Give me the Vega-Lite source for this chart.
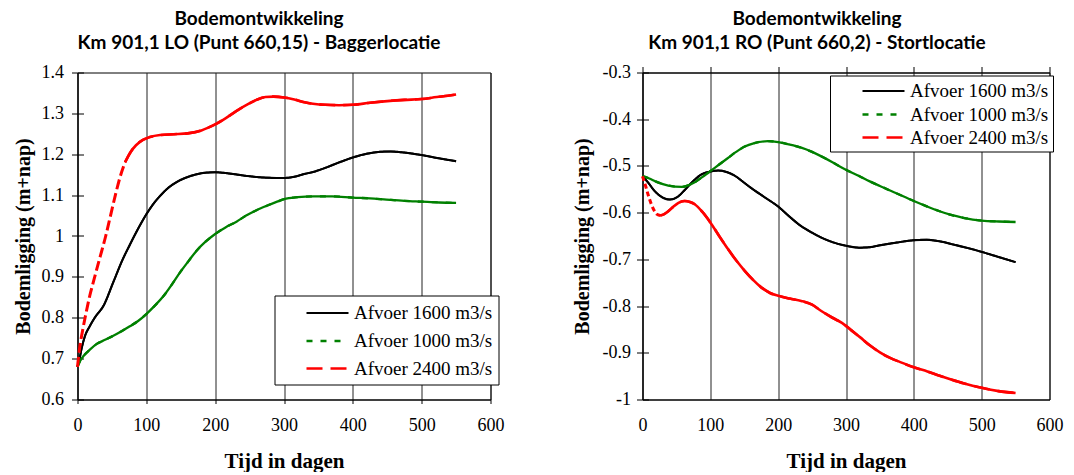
{
  "$schema": "https://vega.github.io/schema/vega-lite/v6.json",
  "background": "white",
  "padding": {"left": 12.5, "top": 8.5, "right": 0, "bottom": 0},
  "config": {
    "view": {"stroke": "#000", "strokeWidth": 1},
    "font": "Liberation Serif",
    "axis": {
      "labelFont": "Liberation Serif", "labelFontSize": 18, "labelColor": "#000",
      "titleFont": "Liberation Serif", "titleFontSize": 21, "titleFontWeight": "bold", "titleColor": "#000",
      "domainColor": "#000", "tickColor": "#000", "gridColor": "#222", "gridOpacity": 1, "gridWidth": 1,
      "labelFlush": false, "labelOverlap": false
    },
    "title": {"font": "Lato", "fontSize": 19, "fontWeight": "bold", "color": "#000", "lineHeight": 24},
    "legend": {
      "orient": "none", "title": null,
      "labelFont": "Liberation Serif", "labelFontSize": 19, "labelColor": "#000", "labelLimit": 300,
      "strokeColor": "#000", "fillColor": "#fff",
      "symbolType": "M-2,0H2", "symbolSize": 441, "labelOffset": 14.5
    }
  },
  "datasets": {
    "lo": [
      {"dag": 0, "waarde": 0.68, "serie": "Afvoer 1600 m3/s"},
      {"dag": 3, "waarde": 0.70, "serie": "Afvoer 1600 m3/s"},
      {"dag": 6, "waarde": 0.725, "serie": "Afvoer 1600 m3/s"},
      {"dag": 11, "waarde": 0.756, "serie": "Afvoer 1600 m3/s"},
      {"dag": 18, "waarde": 0.78, "serie": "Afvoer 1600 m3/s"},
      {"dag": 25, "waarde": 0.80, "serie": "Afvoer 1600 m3/s"},
      {"dag": 38, "waarde": 0.83, "serie": "Afvoer 1600 m3/s"},
      {"dag": 52, "waarde": 0.887, "serie": "Afvoer 1600 m3/s"},
      {"dag": 66, "waarde": 0.944, "serie": "Afvoer 1600 m3/s"},
      {"dag": 75, "waarde": 0.975, "serie": "Afvoer 1600 m3/s"},
      {"dag": 84, "waarde": 1.005, "serie": "Afvoer 1600 m3/s"},
      {"dag": 92, "waarde": 1.03, "serie": "Afvoer 1600 m3/s"},
      {"dag": 100, "waarde": 1.053, "serie": "Afvoer 1600 m3/s"},
      {"dag": 110, "waarde": 1.078, "serie": "Afvoer 1600 m3/s"},
      {"dag": 120, "waarde": 1.098, "serie": "Afvoer 1600 m3/s"},
      {"dag": 132, "waarde": 1.118, "serie": "Afvoer 1600 m3/s"},
      {"dag": 144, "waarde": 1.132, "serie": "Afvoer 1600 m3/s"},
      {"dag": 158, "waarde": 1.143, "serie": "Afvoer 1600 m3/s"},
      {"dag": 173, "waarde": 1.151, "serie": "Afvoer 1600 m3/s"},
      {"dag": 186, "waarde": 1.155, "serie": "Afvoer 1600 m3/s"},
      {"dag": 200, "waarde": 1.156, "serie": "Afvoer 1600 m3/s"},
      {"dag": 220, "waarde": 1.153, "serie": "Afvoer 1600 m3/s"},
      {"dag": 246, "waarde": 1.147, "serie": "Afvoer 1600 m3/s"},
      {"dag": 270, "waarde": 1.143, "serie": "Afvoer 1600 m3/s"},
      {"dag": 289, "waarde": 1.142, "serie": "Afvoer 1600 m3/s"},
      {"dag": 300, "waarde": 1.142, "serie": "Afvoer 1600 m3/s"},
      {"dag": 315, "waarde": 1.145, "serie": "Afvoer 1600 m3/s"},
      {"dag": 328, "waarde": 1.151, "serie": "Afvoer 1600 m3/s"},
      {"dag": 345, "waarde": 1.158, "serie": "Afvoer 1600 m3/s"},
      {"dag": 362, "waarde": 1.168, "serie": "Afvoer 1600 m3/s"},
      {"dag": 380, "waarde": 1.18, "serie": "Afvoer 1600 m3/s"},
      {"dag": 400, "waarde": 1.192, "serie": "Afvoer 1600 m3/s"},
      {"dag": 420, "waarde": 1.201, "serie": "Afvoer 1600 m3/s"},
      {"dag": 440, "waarde": 1.206, "serie": "Afvoer 1600 m3/s"},
      {"dag": 455, "waarde": 1.207, "serie": "Afvoer 1600 m3/s"},
      {"dag": 470, "waarde": 1.205, "serie": "Afvoer 1600 m3/s"},
      {"dag": 485, "waarde": 1.202, "serie": "Afvoer 1600 m3/s"},
      {"dag": 500, "waarde": 1.198, "serie": "Afvoer 1600 m3/s"},
      {"dag": 525, "waarde": 1.19, "serie": "Afvoer 1600 m3/s"},
      {"dag": 550, "waarde": 1.183, "serie": "Afvoer 1600 m3/s"},

      {"dag": 0, "waarde": 0.68, "serie": "Afvoer 1000 m3/s"},
      {"dag": 4, "waarde": 0.695, "serie": "Afvoer 1000 m3/s"},
      {"dag": 9, "waarde": 0.707, "serie": "Afvoer 1000 m3/s"},
      {"dag": 18, "waarde": 0.722, "serie": "Afvoer 1000 m3/s"},
      {"dag": 28, "waarde": 0.736, "serie": "Afvoer 1000 m3/s"},
      {"dag": 40, "waarde": 0.746, "serie": "Afvoer 1000 m3/s"},
      {"dag": 52, "waarde": 0.756, "serie": "Afvoer 1000 m3/s"},
      {"dag": 64, "waarde": 0.767, "serie": "Afvoer 1000 m3/s"},
      {"dag": 76, "waarde": 0.779, "serie": "Afvoer 1000 m3/s"},
      {"dag": 88, "waarde": 0.792, "serie": "Afvoer 1000 m3/s"},
      {"dag": 100, "waarde": 0.809, "serie": "Afvoer 1000 m3/s"},
      {"dag": 112, "waarde": 0.829, "serie": "Afvoer 1000 m3/s"},
      {"dag": 125, "waarde": 0.853, "serie": "Afvoer 1000 m3/s"},
      {"dag": 137, "waarde": 0.881, "serie": "Afvoer 1000 m3/s"},
      {"dag": 149, "waarde": 0.911, "serie": "Afvoer 1000 m3/s"},
      {"dag": 161, "waarde": 0.938, "serie": "Afvoer 1000 m3/s"},
      {"dag": 173, "waarde": 0.964, "serie": "Afvoer 1000 m3/s"},
      {"dag": 186, "waarde": 0.986, "serie": "Afvoer 1000 m3/s"},
      {"dag": 200, "waarde": 1.005, "serie": "Afvoer 1000 m3/s"},
      {"dag": 215, "waarde": 1.021, "serie": "Afvoer 1000 m3/s"},
      {"dag": 231, "waarde": 1.035, "serie": "Afvoer 1000 m3/s"},
      {"dag": 245, "waarde": 1.05, "serie": "Afvoer 1000 m3/s"},
      {"dag": 260, "waarde": 1.063, "serie": "Afvoer 1000 m3/s"},
      {"dag": 275, "waarde": 1.074, "serie": "Afvoer 1000 m3/s"},
      {"dag": 290, "waarde": 1.084, "serie": "Afvoer 1000 m3/s"},
      {"dag": 300, "waarde": 1.09, "serie": "Afvoer 1000 m3/s"},
      {"dag": 320, "waarde": 1.095, "serie": "Afvoer 1000 m3/s"},
      {"dag": 343, "waarde": 1.097, "serie": "Afvoer 1000 m3/s"},
      {"dag": 370, "waarde": 1.097, "serie": "Afvoer 1000 m3/s"},
      {"dag": 400, "waarde": 1.094, "serie": "Afvoer 1000 m3/s"},
      {"dag": 425, "waarde": 1.092, "serie": "Afvoer 1000 m3/s"},
      {"dag": 449, "waarde": 1.089, "serie": "Afvoer 1000 m3/s"},
      {"dag": 475, "waarde": 1.086, "serie": "Afvoer 1000 m3/s"},
      {"dag": 500, "waarde": 1.084, "serie": "Afvoer 1000 m3/s"},
      {"dag": 525, "waarde": 1.082, "serie": "Afvoer 1000 m3/s"},
      {"dag": 550, "waarde": 1.081, "serie": "Afvoer 1000 m3/s"},

      {"dag": 0, "waarde": 0.68, "serie": "Afvoer 2400 m3/s"},
      {"dag": 3, "waarde": 0.725, "serie": "Afvoer 2400 m3/s"},
      {"dag": 7, "waarde": 0.765, "serie": "Afvoer 2400 m3/s"},
      {"dag": 11, "waarde": 0.80, "serie": "Afvoer 2400 m3/s"},
      {"dag": 18, "waarde": 0.855, "serie": "Afvoer 2400 m3/s"},
      {"dag": 25, "waarde": 0.90, "serie": "Afvoer 2400 m3/s"},
      {"dag": 33, "waarde": 0.95, "serie": "Afvoer 2400 m3/s"},
      {"dag": 41, "waarde": 1.0, "serie": "Afvoer 2400 m3/s"},
      {"dag": 48, "waarde": 1.05, "serie": "Afvoer 2400 m3/s"},
      {"dag": 55, "waarde": 1.10, "serie": "Afvoer 2400 m3/s"},
      {"dag": 62, "waarde": 1.145, "serie": "Afvoer 2400 m3/s"},
      {"dag": 69, "waarde": 1.18, "serie": "Afvoer 2400 m3/s"},
      {"dag": 77, "waarde": 1.205, "serie": "Afvoer 2400 m3/s"},
      {"dag": 85, "waarde": 1.222, "serie": "Afvoer 2400 m3/s"},
      {"dag": 95, "waarde": 1.235, "serie": "Afvoer 2400 m3/s"},
      {"dag": 105, "waarde": 1.242, "serie": "Afvoer 2400 m3/s"},
      {"dag": 120, "waarde": 1.247, "serie": "Afvoer 2400 m3/s"},
      {"dag": 140, "waarde": 1.249, "serie": "Afvoer 2400 m3/s"},
      {"dag": 160, "waarde": 1.251, "serie": "Afvoer 2400 m3/s"},
      {"dag": 180, "waarde": 1.258, "serie": "Afvoer 2400 m3/s"},
      {"dag": 190, "waarde": 1.265, "serie": "Afvoer 2400 m3/s"},
      {"dag": 200, "waarde": 1.273, "serie": "Afvoer 2400 m3/s"},
      {"dag": 215, "waarde": 1.288, "serie": "Afvoer 2400 m3/s"},
      {"dag": 230, "waarde": 1.305, "serie": "Afvoer 2400 m3/s"},
      {"dag": 245, "waarde": 1.32, "serie": "Afvoer 2400 m3/s"},
      {"dag": 260, "waarde": 1.333, "serie": "Afvoer 2400 m3/s"},
      {"dag": 273, "waarde": 1.34, "serie": "Afvoer 2400 m3/s"},
      {"dag": 285, "waarde": 1.341, "serie": "Afvoer 2400 m3/s"},
      {"dag": 300, "waarde": 1.339, "serie": "Afvoer 2400 m3/s"},
      {"dag": 315, "waarde": 1.334, "serie": "Afvoer 2400 m3/s"},
      {"dag": 328, "waarde": 1.328, "serie": "Afvoer 2400 m3/s"},
      {"dag": 345, "waarde": 1.323, "serie": "Afvoer 2400 m3/s"},
      {"dag": 360, "waarde": 1.321, "serie": "Afvoer 2400 m3/s"},
      {"dag": 380, "waarde": 1.32, "serie": "Afvoer 2400 m3/s"},
      {"dag": 400, "waarde": 1.321, "serie": "Afvoer 2400 m3/s"},
      {"dag": 425, "waarde": 1.326, "serie": "Afvoer 2400 m3/s"},
      {"dag": 450, "waarde": 1.33, "serie": "Afvoer 2400 m3/s"},
      {"dag": 475, "waarde": 1.333, "serie": "Afvoer 2400 m3/s"},
      {"dag": 500, "waarde": 1.335, "serie": "Afvoer 2400 m3/s"},
      {"dag": 522, "waarde": 1.34, "serie": "Afvoer 2400 m3/s"},
      {"dag": 538, "waarde": 1.343, "serie": "Afvoer 2400 m3/s"},
      {"dag": 550, "waarde": 1.346, "serie": "Afvoer 2400 m3/s"}
    ],
    "ro": [
      {"dag": 0, "waarde": -0.522, "serie": "Afvoer 1600 m3/s"},
      {"dag": 8, "waarde": -0.535, "serie": "Afvoer 1600 m3/s"},
      {"dag": 18, "waarde": -0.554, "serie": "Afvoer 1600 m3/s"},
      {"dag": 30, "waarde": -0.568, "serie": "Afvoer 1600 m3/s"},
      {"dag": 40, "waarde": -0.572, "serie": "Afvoer 1600 m3/s"},
      {"dag": 52, "waarde": -0.566, "serie": "Afvoer 1600 m3/s"},
      {"dag": 62, "waarde": -0.552, "serie": "Afvoer 1600 m3/s"},
      {"dag": 75, "waarde": -0.532, "serie": "Afvoer 1600 m3/s"},
      {"dag": 87, "waarde": -0.518, "serie": "Afvoer 1600 m3/s"},
      {"dag": 100, "waarde": -0.512, "serie": "Afvoer 1600 m3/s"},
      {"dag": 112, "waarde": -0.51, "serie": "Afvoer 1600 m3/s"},
      {"dag": 124, "waarde": -0.513, "serie": "Afvoer 1600 m3/s"},
      {"dag": 136, "waarde": -0.521, "serie": "Afvoer 1600 m3/s"},
      {"dag": 150, "waarde": -0.536, "serie": "Afvoer 1600 m3/s"},
      {"dag": 160, "waarde": -0.547, "serie": "Afvoer 1600 m3/s"},
      {"dag": 180, "waarde": -0.567, "serie": "Afvoer 1600 m3/s"},
      {"dag": 200, "waarde": -0.587, "serie": "Afvoer 1600 m3/s"},
      {"dag": 217, "waarde": -0.609, "serie": "Afvoer 1600 m3/s"},
      {"dag": 234, "waarde": -0.629, "serie": "Afvoer 1600 m3/s"},
      {"dag": 250, "waarde": -0.643, "serie": "Afvoer 1600 m3/s"},
      {"dag": 263, "waarde": -0.653, "serie": "Afvoer 1600 m3/s"},
      {"dag": 280, "waarde": -0.663, "serie": "Afvoer 1600 m3/s"},
      {"dag": 297, "waarde": -0.67, "serie": "Afvoer 1600 m3/s"},
      {"dag": 320, "waarde": -0.675, "serie": "Afvoer 1600 m3/s"},
      {"dag": 335, "waarde": -0.674, "serie": "Afvoer 1600 m3/s"},
      {"dag": 350, "waarde": -0.67, "serie": "Afvoer 1600 m3/s"},
      {"dag": 375, "waarde": -0.664, "serie": "Afvoer 1600 m3/s"},
      {"dag": 400, "waarde": -0.659, "serie": "Afvoer 1600 m3/s"},
      {"dag": 419, "waarde": -0.658, "serie": "Afvoer 1600 m3/s"},
      {"dag": 440, "waarde": -0.662, "serie": "Afvoer 1600 m3/s"},
      {"dag": 458, "waarde": -0.668, "serie": "Afvoer 1600 m3/s"},
      {"dag": 480, "waarde": -0.676, "serie": "Afvoer 1600 m3/s"},
      {"dag": 500, "waarde": -0.684, "serie": "Afvoer 1600 m3/s"},
      {"dag": 525, "waarde": -0.695, "serie": "Afvoer 1600 m3/s"},
      {"dag": 550, "waarde": -0.706, "serie": "Afvoer 1600 m3/s"},

      {"dag": 0, "waarde": -0.522, "serie": "Afvoer 1000 m3/s"},
      {"dag": 10, "waarde": -0.527, "serie": "Afvoer 1000 m3/s"},
      {"dag": 19, "waarde": -0.533, "serie": "Afvoer 1000 m3/s"},
      {"dag": 38, "waarde": -0.542, "serie": "Afvoer 1000 m3/s"},
      {"dag": 58, "waarde": -0.545, "serie": "Afvoer 1000 m3/s"},
      {"dag": 70, "waarde": -0.54, "serie": "Afvoer 1000 m3/s"},
      {"dag": 77, "waarde": -0.535, "serie": "Afvoer 1000 m3/s"},
      {"dag": 88, "waarde": -0.524, "serie": "Afvoer 1000 m3/s"},
      {"dag": 100, "waarde": -0.511, "serie": "Afvoer 1000 m3/s"},
      {"dag": 113, "waarde": -0.497, "serie": "Afvoer 1000 m3/s"},
      {"dag": 126, "waarde": -0.483, "serie": "Afvoer 1000 m3/s"},
      {"dag": 138, "waarde": -0.47, "serie": "Afvoer 1000 m3/s"},
      {"dag": 150, "waarde": -0.459, "serie": "Afvoer 1000 m3/s"},
      {"dag": 165, "waarde": -0.451, "serie": "Afvoer 1000 m3/s"},
      {"dag": 185, "waarde": -0.447, "serie": "Afvoer 1000 m3/s"},
      {"dag": 200, "waarde": -0.449, "serie": "Afvoer 1000 m3/s"},
      {"dag": 216, "waarde": -0.454, "serie": "Afvoer 1000 m3/s"},
      {"dag": 234, "waarde": -0.461, "serie": "Afvoer 1000 m3/s"},
      {"dag": 250, "waarde": -0.47, "serie": "Afvoer 1000 m3/s"},
      {"dag": 263, "waarde": -0.479, "serie": "Afvoer 1000 m3/s"},
      {"dag": 280, "waarde": -0.492, "serie": "Afvoer 1000 m3/s"},
      {"dag": 297, "waarde": -0.506, "serie": "Afvoer 1000 m3/s"},
      {"dag": 320, "waarde": -0.522, "serie": "Afvoer 1000 m3/s"},
      {"dag": 335, "waarde": -0.533, "serie": "Afvoer 1000 m3/s"},
      {"dag": 350, "waarde": -0.543, "serie": "Afvoer 1000 m3/s"},
      {"dag": 375, "waarde": -0.559, "serie": "Afvoer 1000 m3/s"},
      {"dag": 400, "waarde": -0.575, "serie": "Afvoer 1000 m3/s"},
      {"dag": 420, "waarde": -0.587, "serie": "Afvoer 1000 m3/s"},
      {"dag": 438, "waarde": -0.597, "serie": "Afvoer 1000 m3/s"},
      {"dag": 455, "waarde": -0.605, "serie": "Afvoer 1000 m3/s"},
      {"dag": 473, "waarde": -0.611, "serie": "Afvoer 1000 m3/s"},
      {"dag": 500, "waarde": -0.617, "serie": "Afvoer 1000 m3/s"},
      {"dag": 525, "waarde": -0.619, "serie": "Afvoer 1000 m3/s"},
      {"dag": 550, "waarde": -0.62, "serie": "Afvoer 1000 m3/s"},

      {"dag": 0, "waarde": -0.522, "serie": "Afvoer 2400 m3/s"},
      {"dag": 5, "waarde": -0.545, "serie": "Afvoer 2400 m3/s"},
      {"dag": 9, "waarde": -0.565, "serie": "Afvoer 2400 m3/s"},
      {"dag": 13, "waarde": -0.582, "serie": "Afvoer 2400 m3/s"},
      {"dag": 17, "waarde": -0.595, "serie": "Afvoer 2400 m3/s"},
      {"dag": 21, "waarde": -0.603, "serie": "Afvoer 2400 m3/s"},
      {"dag": 26, "waarde": -0.606, "serie": "Afvoer 2400 m3/s"},
      {"dag": 32, "waarde": -0.603, "serie": "Afvoer 2400 m3/s"},
      {"dag": 38, "waarde": -0.597, "serie": "Afvoer 2400 m3/s"},
      {"dag": 45, "waarde": -0.588, "serie": "Afvoer 2400 m3/s"},
      {"dag": 53, "waarde": -0.579, "serie": "Afvoer 2400 m3/s"},
      {"dag": 62, "waarde": -0.575, "serie": "Afvoer 2400 m3/s"},
      {"dag": 70, "waarde": -0.577, "serie": "Afvoer 2400 m3/s"},
      {"dag": 77, "waarde": -0.582, "serie": "Afvoer 2400 m3/s"},
      {"dag": 88, "waarde": -0.598, "serie": "Afvoer 2400 m3/s"},
      {"dag": 100, "waarde": -0.621, "serie": "Afvoer 2400 m3/s"},
      {"dag": 113, "waarde": -0.65, "serie": "Afvoer 2400 m3/s"},
      {"dag": 126, "waarde": -0.678, "serie": "Afvoer 2400 m3/s"},
      {"dag": 138, "waarde": -0.702, "serie": "Afvoer 2400 m3/s"},
      {"dag": 151, "waarde": -0.725, "serie": "Afvoer 2400 m3/s"},
      {"dag": 163, "waarde": -0.744, "serie": "Afvoer 2400 m3/s"},
      {"dag": 175, "waarde": -0.76, "serie": "Afvoer 2400 m3/s"},
      {"dag": 188, "waarde": -0.772, "serie": "Afvoer 2400 m3/s"},
      {"dag": 200, "waarde": -0.778, "serie": "Afvoer 2400 m3/s"},
      {"dag": 217, "waarde": -0.784, "serie": "Afvoer 2400 m3/s"},
      {"dag": 234, "waarde": -0.789, "serie": "Afvoer 2400 m3/s"},
      {"dag": 250, "waarde": -0.797, "serie": "Afvoer 2400 m3/s"},
      {"dag": 263, "waarde": -0.81, "serie": "Afvoer 2400 m3/s"},
      {"dag": 280, "waarde": -0.825, "serie": "Afvoer 2400 m3/s"},
      {"dag": 294, "waarde": -0.836, "serie": "Afvoer 2400 m3/s"},
      {"dag": 308, "waarde": -0.852, "serie": "Afvoer 2400 m3/s"},
      {"dag": 321, "waarde": -0.867, "serie": "Afvoer 2400 m3/s"},
      {"dag": 335, "waarde": -0.884, "serie": "Afvoer 2400 m3/s"},
      {"dag": 350, "waarde": -0.899, "serie": "Afvoer 2400 m3/s"},
      {"dag": 365, "waarde": -0.911, "serie": "Afvoer 2400 m3/s"},
      {"dag": 380, "waarde": -0.92, "serie": "Afvoer 2400 m3/s"},
      {"dag": 400, "waarde": -0.931, "serie": "Afvoer 2400 m3/s"},
      {"dag": 420, "waarde": -0.94, "serie": "Afvoer 2400 m3/s"},
      {"dag": 438, "waarde": -0.949, "serie": "Afvoer 2400 m3/s"},
      {"dag": 455, "waarde": -0.957, "serie": "Afvoer 2400 m3/s"},
      {"dag": 473, "waarde": -0.965, "serie": "Afvoer 2400 m3/s"},
      {"dag": 500, "waarde": -0.975, "serie": "Afvoer 2400 m3/s"},
      {"dag": 525, "waarde": -0.982, "serie": "Afvoer 2400 m3/s"},
      {"dag": 550, "waarde": -0.986, "serie": "Afvoer 2400 m3/s"}
    ]
  },
  "bounds": "flush",
  "spacing": 152,
  "resolve": {
    "scale": {"color": "independent", "strokeDash": "independent", "strokeWidth": "independent"},
    "legend": {"color": "independent", "strokeDash": "independent", "strokeWidth": "independent"}
  },
  "hconcat": [
    {
      "width": 413,
      "height": 327,
      "title": {"text": ["Bodemontwikkeling", "Km 901,1 LO (Punt 660,15) - Baggerlocatie"], "dx": -25, "offset": 11},
      "data": {"name": "lo"},
      "encoding": {
        "x": {
          "field": "dag", "type": "quantitative",
          "scale": {"domain": [0, 600], "nice": false},
          "axis": {
            "title": "Tijd in dagen", "values": [0, 100, 200, 300, 400, 500, 600],
            "grid": true, "tickSize": 4, "labelPadding": 12.5, "titlePadding": 16
          }
        }
      },
      "resolve": {"axis": {"y": "independent"}},
      "layer": [
        {
          "transform": [{"filter": "datum.serie != 'Afvoer 2400 m3/s' || datum.dag >= 69"}],
          "mark": {"type": "line", "interpolate": "monotone"},
          "encoding": {
            "y": {
              "field": "waarde", "type": "quantitative",
              "scale": {"domain": [0.6, 1.4], "nice": false, "zero": false},
              "axis": {"orient": "left", "labels": false, "domain": false, "grid": false, "title": null,
                       "tickSize": -6, "values": [0.6, 0.7, 0.8, 0.9, 1, 1.1, 1.2, 1.3, 1.4]}
            },
            "color": {
              "field": "serie", "type": "nominal",
              "scale": {"domain": ["Afvoer 1600 m3/s", "Afvoer 1000 m3/s", "Afvoer 2400 m3/s"], "range": ["#000000", "#008000", "#ff0000"]},
              "legend": {"legendX": 197, "legendY": 223, "padding": 6, "rowPadding": 5.5, "symbolOffset": 35}
            },
            "strokeDash": {
              "field": "serie", "type": "nominal",
              "scale": {"domain": ["Afvoer 1600 m3/s", "Afvoer 1000 m3/s", "Afvoer 2400 m3/s"], "range": [[1, 0], [6, 8], [16, 8]]},
              "legend": {"legendX": 197, "legendY": 223, "padding": 6, "rowPadding": 5.5, "symbolOffset": 35}
            },
            "strokeWidth": {
              "field": "serie", "type": "nominal",
              "scale": {"domain": ["Afvoer 1600 m3/s", "Afvoer 1000 m3/s", "Afvoer 2400 m3/s"], "range": [2, 2.6, 3]},
              "legend": {"legendX": 197, "legendY": 223, "padding": 6, "rowPadding": 5.5, "symbolOffset": 35}
            }
          }
        },
        {
          "transform": [{"filter": "datum.serie != 'Afvoer 2400 m3/s' || datum.dag >= 69"}],
          "mark": {"type": "line", "interpolate": "monotone"},
          "encoding": {
            "y": {
              "field": "waarde", "type": "quantitative",
              "scale": {"domain": [0.6, 1.4], "nice": false, "zero": false},
              "axis": {"orient": "left", "title": "Bodemligging (m+nap)", "titleFontSize": 20,
                       "values": [0.6, 0.7, 0.8, 0.9, 1, 1.1, 1.2, 1.3, 1.4], "format": "~g",
                       "grid": false, "tickSize": 6, "labelPadding": 8, "titlePadding": 8}
            },
            "color": {"field": "serie", "type": "nominal",
              "legend": {"legendX": 197, "legendY": 223, "padding": 6, "rowPadding": 5.5, "symbolOffset": 35}},
            "strokeWidth": {"field": "serie", "type": "nominal",
              "legend": {"legendX": 197, "legendY": 223, "padding": 6, "rowPadding": 5.5, "symbolOffset": 35}}
          }
        },
        {
          "transform": [{"filter": "datum.serie == 'Afvoer 2400 m3/s' && datum.dag <= 69"}],
          "mark": {"type": "line", "interpolate": "monotone", "color": "#ff0000", "strokeWidth": 3, "strokeDash": [10, 4]},
          "encoding": {
            "y": {"field": "waarde", "type": "quantitative", "axis": null}
          }
        }
      ]
    },
    {
      "width": 407,
      "height": 327,
      "title": {"text": ["Bodemontwikkeling", "Km 901,1 RO (Punt 660,2) - Stortlocatie"], "dx": -29, "offset": 11},
      "data": {"name": "ro"},
      "resolve": {"axis": {"x": "independent", "y": "independent"}},
      "layer": [
        {
          "transform": [{"filter": "datum.serie != 'Afvoer 2400 m3/s' || datum.dag >= 26"}],
          "mark": {"type": "line", "interpolate": "monotone"},
          "encoding": {
            "x": {
              "field": "dag", "type": "quantitative",
              "scale": {"domain": [0, 600], "nice": false},
              "axis": {"orient": "top", "labels": false, "grid": false, "title": null, "tickSize": 6,
                       "values": [0, 100, 200, 300, 400, 500, 600]}
            },
            "y": {
              "field": "waarde", "type": "quantitative",
              "scale": {"domain": [-1, -0.3], "nice": false, "zero": false},
              "axis": {"orient": "left", "labels": false, "domain": false, "grid": false, "title": null,
                       "tickSize": -6, "values": [-1, -0.9, -0.8, -0.7, -0.6, -0.5, -0.4, -0.3]}
            },
            "color": {
              "field": "serie", "type": "nominal",
              "scale": {"domain": ["Afvoer 1600 m3/s", "Afvoer 1000 m3/s", "Afvoer 2400 m3/s"], "range": ["#000000", "#008000", "#ff0000"]},
              "legend": {"legendX": 187.5, "legendY": 3, "padding": 4, "rowPadding": 1, "symbolOffset": 37.5}
            },
            "strokeDash": {
              "field": "serie", "type": "nominal",
              "scale": {"domain": ["Afvoer 1600 m3/s", "Afvoer 1000 m3/s", "Afvoer 2400 m3/s"], "range": [[1, 0], [6, 8], [16, 8]]},
              "legend": {"legendX": 187.5, "legendY": 3, "padding": 4, "rowPadding": 1, "symbolOffset": 37.5}
            },
            "strokeWidth": {
              "field": "serie", "type": "nominal",
              "scale": {"domain": ["Afvoer 1600 m3/s", "Afvoer 1000 m3/s", "Afvoer 2400 m3/s"], "range": [2, 2.6, 3]},
              "legend": {"legendX": 187.5, "legendY": 3, "padding": 4, "rowPadding": 1, "symbolOffset": 37.5}
            }
          }
        },
        {
          "transform": [{"filter": "datum.serie != 'Afvoer 2400 m3/s' || datum.dag >= 26"}],
          "mark": {"type": "line", "interpolate": "monotone"},
          "encoding": {
            "x": {
              "field": "dag", "type": "quantitative",
              "scale": {"domain": [0, 600], "nice": false},
              "axis": {"orient": "bottom", "title": "Tijd in dagen", "values": [0, 100, 200, 300, 400, 500, 600],
                       "grid": true, "ticks": false, "labelPadding": 16.5, "titlePadding": 16}
            },
            "y": {
              "field": "waarde", "type": "quantitative",
              "scale": {"domain": [-1, -0.3], "nice": false, "zero": false},
              "axis": {"orient": "left", "title": "Bodemligging (m+nap)", "titleFontSize": 20,
                       "values": [-1, -0.9, -0.8, -0.7, -0.6, -0.5, -0.4, -0.3],
                       "labelExpr": "replace(format(datum.value, '~g'), '\u2212', '-')",
                       "grid": false, "tickSize": 6, "labelPadding": 6, "titlePadding": 10}
            },
            "color": {"field": "serie", "type": "nominal",
              "legend": {"legendX": 187.5, "legendY": 3, "padding": 4, "rowPadding": 1, "symbolOffset": 37.5}},
            "strokeWidth": {"field": "serie", "type": "nominal",
              "legend": {"legendX": 187.5, "legendY": 3, "padding": 4, "rowPadding": 1, "symbolOffset": 37.5}}
          }
        },
        {
          "transform": [{"filter": "datum.serie == 'Afvoer 2400 m3/s' && datum.dag <= 26"}],
          "mark": {"type": "line", "interpolate": "monotone", "color": "#ff0000", "strokeWidth": 3, "strokeDash": [5, 3]},
          "encoding": {
            "x": {"field": "dag", "type": "quantitative", "axis": null},
            "y": {"field": "waarde", "type": "quantitative", "axis": null}
          }
        }
      ]
    }
  ]
}
